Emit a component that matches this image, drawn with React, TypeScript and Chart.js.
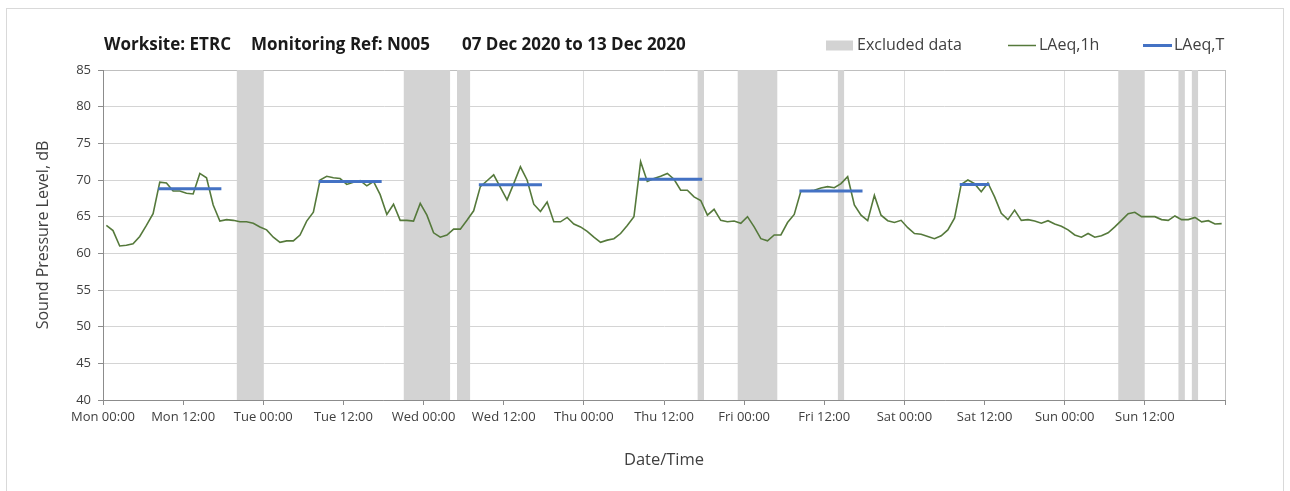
import React, { useEffect, useRef } from 'react';
import { Chart, registerables } from 'chart.js';

Chart.register(...registerables);

// ---- Data ----
const TITLE_PARTS = ['Worksite: ETRC', 'Monitoring Ref: N005', '07 Dec 2020 to 13 Dec 2020'];
const X_TICK_LABELS = [
  'Mon 00:00', 'Mon 12:00', 'Tue 00:00', 'Tue 12:00', 'Wed 00:00', 'Wed 12:00', 'Thu 00:00',
  'Thu 12:00', 'Fri 00:00', 'Fri 12:00', 'Sat 00:00', 'Sat 12:00', 'Sun 00:00', 'Sun 12:00',
];
const X_TITLE = 'Date/Time';
const Y_TITLE = 'Sound Pressure Level, dB';
const LEGEND_LABELS = ['Excluded data', 'LAeq,1h', 'LAeq,T'];
const Y_MIN = 40;
const Y_MAX = 85;
const Y_STEP = 5;
const HOURS_TOTAL = 168;
const X_TICK_STEP = 12;

// Hourly LAeq,1h values, Mon 00:00 .. Sun 23:00
const LAEQ_1H = [
  63.8, 63.1, 61.0, 61.1, 61.3, 62.3, 63.8, 65.4, 69.7, 69.6, 68.5, 68.5, 68.2, 68.1, 70.9, 70.3,
  66.6, 64.4, 64.6, 64.5, 64.3, 64.3, 64.1, 63.6,
  63.2, 62.2, 61.5, 61.7, 61.7, 62.5, 64.4, 65.6, 70.0, 70.5, 70.3, 70.2, 69.4, 69.7, 69.9, 69.2,
  69.8, 68.0, 65.3, 66.7, 64.5, 64.5, 64.4, 66.8,
  65.2, 62.8, 62.2, 62.5, 63.3, 63.3, 64.5, 65.8, 69.1, 69.9, 70.7, 69.0, 67.3, 69.5, 71.8, 70.0,
  66.7, 65.7, 67.0, 64.3, 64.3, 64.9, 64.0, 63.6,
  63.0, 62.2, 61.5, 61.8, 62.0, 62.7, 63.8, 65.0, 72.5, 69.8, 70.2, 70.5, 70.9, 70.1, 68.6, 68.6,
  67.7, 67.2, 65.2, 66.0, 64.5, 64.3, 64.4, 64.1,
  65.0, 63.6, 62.0, 61.7, 62.5, 62.5, 64.2, 65.3, 68.5, 68.5, 68.6, 68.9, 69.1, 68.95, 69.5, 70.45,
  66.6, 65.2, 64.45, 67.9, 65.2, 64.45, 64.2, 64.5,
  63.5, 62.7, 62.6, 62.3, 62.0, 62.4, 63.2, 64.8, 69.4, 70.0, 69.5, 68.4, 69.6, 67.7, 65.45, 64.6,
  65.9, 64.5, 64.6, 64.4, 64.1, 64.45, 64.0, 63.7,
  63.2, 62.5, 62.2, 62.7, 62.2, 62.4, 62.8, 63.6, 64.5, 65.4, 65.6, 65.0, 65.0, 65.0, 64.6, 64.5,
  65.1, 64.6, 64.6, 64.9, 64.3, 64.45, 64.0, 64.05,
];

// Excluded data periods (hours from Mon 00:00)
const EXCLUDED_START = [20, 45, 53, 89, 95, 110, 152, 161, 163];
const EXCLUDED_END = [24, 52, 55, 90, 101, 111, 156, 162, 164];

// LAeq,T assessment periods (hours from Mon 00:00) and levels
const PERIOD_START = [8, 32, 56, 80, 104, 128];
const PERIOD_END = [18, 42, 66, 90, 114, 133];
const PERIOD_LAEQ = [68.8, 69.8, 69.35, 70.1, 68.5, 69.4];

// ---- Colours / fonts ----
const FONT = "'Open Sans', 'DejaVu Sans', sans-serif";
const GREEN = '#55793b';
const BLUE = '#4472c4';
const BAND = '#d3d3d3';
const TEXT = '#404040';

const titleLegendPlugin = {
  id: 'titleLegend',
  afterDraw(chart: any) {
    const ctx = chart.ctx as CanvasRenderingContext2D;
    ctx.save();
    // Title
    ctx.fillStyle = '#1a1a1a';
    ctx.font = `bold 17px ${FONT}`;
    ctx.textBaseline = 'middle';
    ctx.textAlign = 'left';
    const gaps = [20, 32];
    let x = chart.chartArea.left + 1;
    TITLE_PARTS.forEach((t, i) => {
      ctx.fillText(t, x, 45);
      x += ctx.measureText(t).width + (gaps[i] ?? 0);
    });
    // Legend
    ctx.font = `16px ${FONT}`;
    ctx.fillStyle = TEXT;
    const y = 45.5;
    // Excluded data box
    ctx.fillStyle = BAND;
    ctx.fillRect(826, 40.5, 27, 10);
    ctx.fillStyle = TEXT;
    ctx.fillText(LEGEND_LABELS[0], 857, y);
    // LAeq,1h
    ctx.strokeStyle = GREEN;
    ctx.lineWidth = 1.5;
    ctx.beginPath();
    ctx.moveTo(1008, y);
    ctx.lineTo(1036, y);
    ctx.stroke();
    ctx.fillText(LEGEND_LABELS[1], 1039, y);
    // LAeq,T
    ctx.strokeStyle = BLUE;
    ctx.lineWidth = 3;
    ctx.beginPath();
    ctx.moveTo(1143, y);
    ctx.lineTo(1172, y);
    ctx.stroke();
    ctx.fillText(LEGEND_LABELS[2], 1174, y);
    ctx.restore();
  },
};

export default function App() {
  const canvasRef = useRef<HTMLCanvasElement | null>(null);

  useEffect(() => {
    if (!canvasRef.current) return;

    const lineData = LAEQ_1H.map((v, h) => ({ x: h + 0.5, y: v }));

    const bandData: { x: number; y: number | null }[] = [];
    EXCLUDED_START.forEach((s, i) => {
      bandData.push({ x: s, y: Y_MAX });
      bandData.push({ x: EXCLUDED_END[i], y: Y_MAX });
      bandData.push({ x: EXCLUDED_END[i], y: null });
    });

    const periodData: { x: number; y: number | null }[] = [];
    PERIOD_START.forEach((s, i) => {
      periodData.push({ x: s + 0.5, y: PERIOD_LAEQ[i] });
      periodData.push({ x: PERIOD_END[i] - 0.5, y: PERIOD_LAEQ[i] });
      periodData.push({ x: PERIOD_END[i] - 0.5, y: null });
    });

    const chart = new Chart(canvasRef.current, {
      type: 'line',
      data: {
        datasets: [
          {
            label: LEGEND_LABELS[0],
            data: bandData as any,
            borderWidth: 0,
            borderColor: 'rgba(0,0,0,0)',
            backgroundColor: BAND,
            fill: 'start',
            pointRadius: 0,
            spanGaps: false,
            order: 3,
          },
          {
            label: LEGEND_LABELS[1],
            data: lineData as any,
            borderColor: GREEN,
            borderWidth: 1.6,
            pointRadius: 0,
            fill: false,
            tension: 0,
            order: 2,
          },
          {
            label: LEGEND_LABELS[2],
            data: periodData as any,
            borderColor: BLUE,
            borderWidth: 3,
            borderCapStyle: 'square',
            pointRadius: 0,
            fill: false,
            spanGaps: false,
            order: 1,
          },
        ],
      },
      options: {
        responsive: false,
        animation: false,
        devicePixelRatio: 1,
        layout: { padding: { left: 0, top: 70, right: 65, bottom: 0 } },
        plugins: {
          legend: { display: false },
          title: { display: false },
          tooltip: { enabled: false },
        },
        scales: {
          x: {
            type: 'linear',
            min: 0,
            max: HOURS_TOTAL,
            z: 1,
            afterFit: (scale: any) => {
              scale.height = 91;
            },
            ticks: {
              stepSize: X_TICK_STEP,
              autoSkip: false,
              maxRotation: 0,
              minRotation: 0,
              padding: 4,
              color: TEXT,
              font: { family: FONT, size: 13 },
              callback: (v: any) => X_TICK_LABELS[Math.round(Number(v) / X_TICK_STEP)] ?? '',
            },
            grid: {
              drawTicks: true,
              tickLength: 5,
              tickColor: '#8c8c8c',
              lineWidth: 1,
              color: (c: any) => {
                const v = c.tick ? c.tick.value : -1;
                if (v === HOURS_TOTAL) return '#bfbfbf';
                return v % 24 === 0 ? '#dcdcdc' : 'rgba(0,0,0,0)';
              },
            },
            border: { display: true, color: '#8c8c8c', width: 1 },
            title: {
              display: true,
              text: X_TITLE,
              color: TEXT,
              font: { family: FONT, size: 16.5 },
              padding: { top: 0, bottom: 21 },
            },
          },
          y: {
            type: 'linear',
            min: Y_MIN,
            max: Y_MAX,
            afterFit: (scale: any) => {
              scale.width = 103;
            },
            ticks: {
              stepSize: Y_STEP,
              padding: 7,
              color: TEXT,
              font: { family: FONT, size: 13 },
            },
            grid: {
              drawTicks: true,
              tickLength: 5,
              tickColor: '#8c8c8c',
              color: (c: any) => (c.tick && c.tick.value === Y_MAX ? '#bfbfbf' : '#d4d4d4'),
              lineWidth: 1,
            },
            border: { display: true, color: '#8c8c8c', width: 1 },
            title: {
              display: true,
              text: Y_TITLE,
              color: TEXT,
              font: { family: FONT, size: 16 },
              padding: { top: 34, bottom: 0 },
            },
          },
        },
      },
      plugins: [titleLegendPlugin],
    });

    return () => chart.destroy();
  }, []);

  return (
    <div
      style={{
        position: 'fixed',
        left: 0,
        top: 0,
        width: '100vw',
        height: '100vh',
        overflow: 'hidden',
        background: '#ffffff',
      }}
    >
      <div
        style={{
          position: 'absolute',
          left: 6,
          top: 8,
          width: 1278,
          height: 600,
          border: '1px solid #d9d9d9',
          boxSizing: 'border-box',
        }}
      />
      <canvas
        ref={canvasRef}
        width={1290}
        height={491}
        style={{ position: 'absolute', left: 0, top: 0, display: 'block' }}
      />
    </div>
  );
}
